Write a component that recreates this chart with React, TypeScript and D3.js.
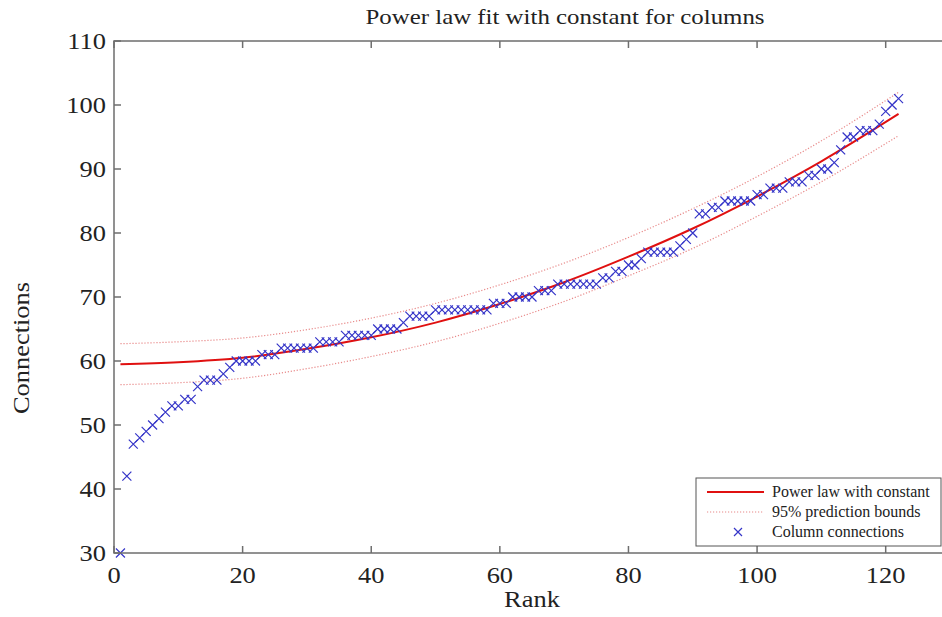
import React from 'react';
import * as d3 from 'd3';

// column connection counts, rank 1..122
const connections = [
	30, 42, 47, 48, 49, 50, 51, 52, 53, 53,
	54, 54, 56, 57, 57, 57, 58, 59, 60, 60,
	60, 60, 61, 61, 61, 62, 62, 62, 62, 62,
	62, 63, 63, 63, 63, 64, 64, 64, 64, 64,
	65, 65, 65, 65, 66, 67, 67, 67, 67, 68,
	68, 68, 68, 68, 68, 68, 68, 68, 69, 69,
	69, 70, 70, 70, 70, 71, 71, 71, 72, 72,
	72, 72, 72, 72, 72, 73, 73, 74, 74, 75,
	75, 76, 77, 77, 77, 77, 77, 78, 79, 80,
	83, 83, 84, 84, 85, 85, 85, 85, 85, 86,
	86, 87, 87, 87, 88, 88, 88, 89, 89, 90,
	90, 91, 93, 95, 95, 96, 96, 96, 97, 99,
	100, 101
];
const ranks = connections.map((_, i) => i + 1);

// fitted curve and 95% bounds
const fitRanks = [1, 10, 20, 30, 40, 50, 60, 70, 80, 90, 100, 110, 122];
const fitValues = [59.5, 59.8, 60.5, 61.9, 63.7, 66.0, 68.9, 72.3, 76.3, 80.7, 85.7, 91.2, 98.6];
const upperBound = [62.7, 63.0, 63.6, 64.9, 66.7, 69.0, 71.9, 75.3, 79.3, 83.8, 88.8, 94.4, 102.0];
const lowerBound = [56.3, 56.6, 57.3, 58.8, 60.7, 63.0, 65.9, 69.3, 73.3, 77.6, 82.6, 88.0, 95.2];

const xTicks = [0, 20, 40, 60, 80, 100, 120];
const yTicks = [30, 40, 50, 60, 70, 80, 90, 100, 110];
const legendLabels = ['Power law with constant', '95% prediction bounds', 'Column connections'];

const W = 942;
const H = 617;
const font = '"Liberation Serif", "Times New Roman", serif';
const axisColor = '#6e6e6e';
const ink = '#222';
const red = '#e01010';
const bound = '#e88a8a';
const blue = '#3535c8';
const stretch = 1.15; // text in the picture is a bit wider than plain Times

// text that is stretched sideways like the picture's
const Label: React.FC<{ x: number; y: number; size: number; anchor?: string; rotate?: number; sx?: number; children: React.ReactNode }> =
	({ x, y, size, anchor = 'middle', rotate = 0, sx = stretch, children }) => (
		<text
			transform={`translate(${x},${y}) rotate(${rotate}) scale(${sx},1)`}
			textAnchor={anchor}
			fontFamily={font}
			fontSize={size}
			fill={ink}
		>
			{children}
		</text>
	);

const App: React.FC = () => {
	const x = d3.scaleLinear().domain([0, 130]).range([114, 950]);
	const y = d3.scaleLinear().domain([30, 110]).range([553, 41]);

	const line = d3.line<number>()
		.x((_, i) => x(fitRanks[i]))
		.y(d => y(d))
		.curve(d3.curveMonotoneX);

	const cross = (cx: number, cy: number, s = 4.5) =>
		`M${cx - s},${cy - s}L${cx + s},${cy + s}M${cx - s},${cy + s}L${cx + s},${cy - s}`;

	const [x0, x1] = x.range();
	const [y0, y1] = y.range();
	const tl = 7;

	return (
		<svg width={W} height={H} style={{ position: 'absolute', left: 0, top: 0, background: '#fff' }}>
			<rect x={0} y={0} width={W} height={H} fill="#fff" />
			<Label x={565} y={24} size={22} sx={1.13}>Power law fit with constant for columns</Label>

			{/* bounds and fit */}
			<path d={line(upperBound) || ''} fill="none" stroke={bound} strokeWidth={1.2} strokeDasharray="1.2,1.8" />
			<path d={line(lowerBound) || ''} fill="none" stroke={bound} strokeWidth={1.2} strokeDasharray="1.2,1.8" />
			<path d={line(fitValues) || ''} fill="none" stroke={red} strokeWidth={2} />

			{/* data */}
			{connections.map((v, i) => (
				<path key={i} d={cross(x(ranks[i]), y(v))} stroke={blue} strokeWidth={1.2} fill="none" />
			))}

			{/* axes box */}
			<rect x={x0} y={y1} width={x1 - x0} height={y0 - y1} fill="none" stroke={axisColor} strokeWidth={1.5} />
			{xTicks.map(t => (
				<g key={'x' + t}>
					<line x1={x(t)} x2={x(t)} y1={y0} y2={y0 - tl} stroke={axisColor} strokeWidth={1.5} />
					<line x1={x(t)} x2={x(t)} y1={y1} y2={y1 + tl} stroke={axisColor} strokeWidth={1.5} />
					<Label x={x(t)} y={583} size={23}>{t}</Label>
				</g>
			))}
			{yTicks.map(t => (
				<g key={'y' + t}>
					<line x1={x0} x2={x0 + tl} y1={y(t)} y2={y(t)} stroke={axisColor} strokeWidth={1.5} />
					<line x1={x1} x2={x1 - tl} y1={y(t)} y2={y(t)} stroke={axisColor} strokeWidth={1.5} />
					<Label x={106} y={y(t) + 8} size={23} anchor="end">{t}</Label>
				</g>
			))}
			<Label x={532} y={607} size={23}>Rank</Label>
			<Label x={29} y={348} size={23} rotate={-90}>Connections</Label>

			{/* legend */}
			<rect x={696} y={478} width={245} height={68} fill="#fff" stroke="#555" strokeWidth={1} />
			<line x1={707} x2={764} y1={492} y2={492} stroke={red} strokeWidth={2} />
			<line x1={707} x2={764} y1={512} y2={512} stroke={bound} strokeWidth={1.2} strokeDasharray="1.2,1.8" />
			<path d={cross(738, 532, 4)} stroke={blue} strokeWidth={1.2} fill="none" />
			{legendLabels.map((l, i) => (
				<text key={l} x={772} y={497 + i * 20} fontFamily={font} fontSize={16} fill={ink}>{l}</text>
			))}
		</svg>
	);
};

export default App;
